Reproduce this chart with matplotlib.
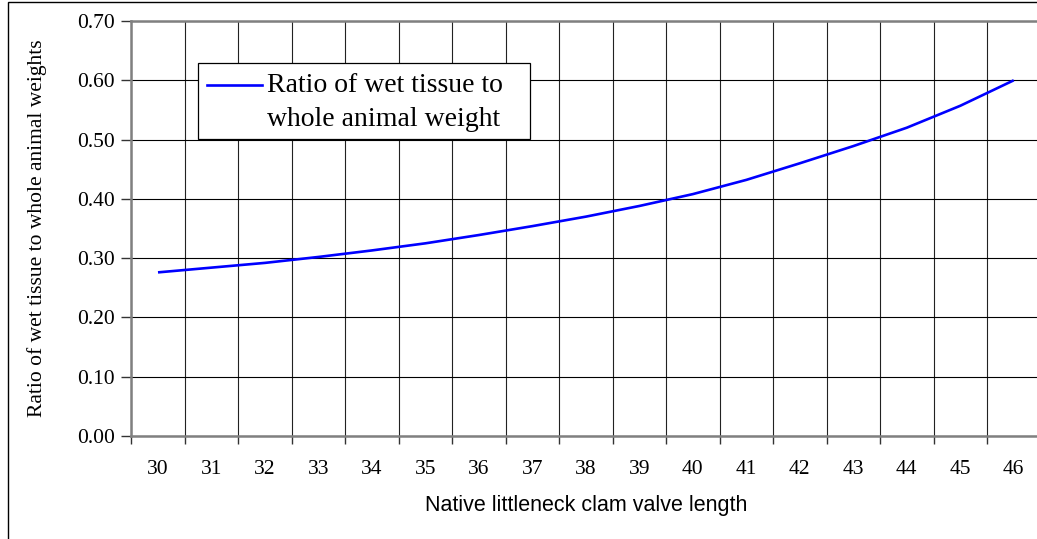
import matplotlib
matplotlib.use("Agg")
import matplotlib.pyplot as plt
from matplotlib.patches import Rectangle
from matplotlib.lines import Line2D
from matplotlib.ticker import FixedLocator, FuncFormatter

# ---- data ----
valve_length = [30, 31, 32, 33, 34, 35, 36, 37, 38, 39, 40, 41, 42, 43, 44, 45, 46]
tissue_ratio = [0.276, 0.284, 0.292, 0.302, 0.313, 0.325, 0.339, 0.354, 0.370,
                0.388, 0.408, 0.432, 0.460, 0.489, 0.520, 0.557, 0.600]
y_ticks = [0.0, 0.1, 0.2, 0.3, 0.4, 0.5, 0.6, 0.7]
series_label_lines = ["Ratio of wet tissue to", "whole animal weight"]
x_title = "Native littleneck clam valve length"
y_title = "Ratio of wet tissue to whole animal weights"

W, H = 1037, 539
fig = plt.figure(figsize=(W / 100, H / 100), dpi=100)
fig.patch.set_facecolor("white")

def fx(px):
    return px / W

def fy(py):
    return 1 - py / H

left, right, top, bottom = 131.25, 1040.5, 21, 436
ax = fig.add_axes([fx(left), fy(bottom), (right - left) / W, (bottom - top) / H])

serif = "Liberation Serif"
sans = "Liberation Sans"
tick_fs = 15.5

n = len(valve_length)
xs = list(range(n))
ax.plot(xs, tissue_ratio, color="#0000FF", linewidth=1.9, solid_capstyle="butt", zorder=3)

ax.set_xlim(-0.5, n - 0.5)
ax.set_ylim(0, 0.7)

# category labels centered, ticks/grid at boundaries
ax.xaxis.set_major_locator(FixedLocator(xs))
ax.set_xticklabels([str(v) for v in valve_length])
ax.xaxis.set_minor_locator(FixedLocator([i - 0.5 for i in range(n + 1)]))
ax.tick_params(axis="x", which="major", length=0, pad=17)
ax.tick_params(axis="x", which="minor", length=6, width=1, color="#333333", direction="out")
ax.grid(True, axis="x", which="minor", color="#222222", linewidth=0.8)

ax.set_yticks(y_ticks)
ax.yaxis.set_major_formatter(FuncFormatter(lambda v, p: f"{v:.2f}"))
ax.tick_params(axis="y", length=7, width=1, color="#333333", pad=5)
ax.grid(True, axis="y", which="major", color="#000000", linewidth=0.8)

for lab in ax.get_xticklabels() + ax.get_yticklabels():
    lab.set_fontfamily(serif)
    lab.set_fontsize(tick_fs)
    lab.set_color("black")

for side in ["left", "bottom", "top"]:
    ax.spines[side].set_color("#808080")
    ax.spines[side].set_linewidth(1.8)
ax.spines["right"].set_visible(False)
ax.set_axisbelow(True)

ax.set_xlabel(x_title, fontfamily=sans, fontsize=tick_fs, va="center")
ax.xaxis.set_label_coords(((left + right) / 2 - left) / (right - left), -(505 - bottom) / (bottom - top))
ax.set_ylabel(y_title, fontfamily=serif, fontsize=tick_fs, va="center")
ax.yaxis.set_label_coords(-(left - 37) / (right - left), 0.5)

# outer chart frame
fig.add_artist(Rectangle((fx(8), -0.1), 1.2, fy(2) + 0.1, transform=fig.transFigure,
                         fill=False, edgecolor="black", linewidth=1.0, clip_on=False))

# legend box
lx0, ly0, lx1, ly1 = 198, 63, 530, 139
fig.add_artist(Rectangle((fx(lx0), fy(ly1)), (lx1 - lx0) / W, (ly1 - ly0) / H,
                         transform=fig.transFigure, facecolor="white", edgecolor="black",
                         linewidth=0.9, zorder=5))
fig.add_artist(Line2D([fx(207), fx(262)], [fy(84.5), fy(84.5)], transform=fig.transFigure,
                      color="#0000FF", linewidth=1.9, zorder=6))
fig.text(fx(267), fy(85), series_label_lines[0], fontfamily=serif, fontsize=20,
         va="center", ha="left", zorder=6)
fig.text(fx(267), fy(119), series_label_lines[1], fontfamily=serif, fontsize=20,
         va="center", ha="left", zorder=6)

fig.savefig("out.png", dpi=100)
